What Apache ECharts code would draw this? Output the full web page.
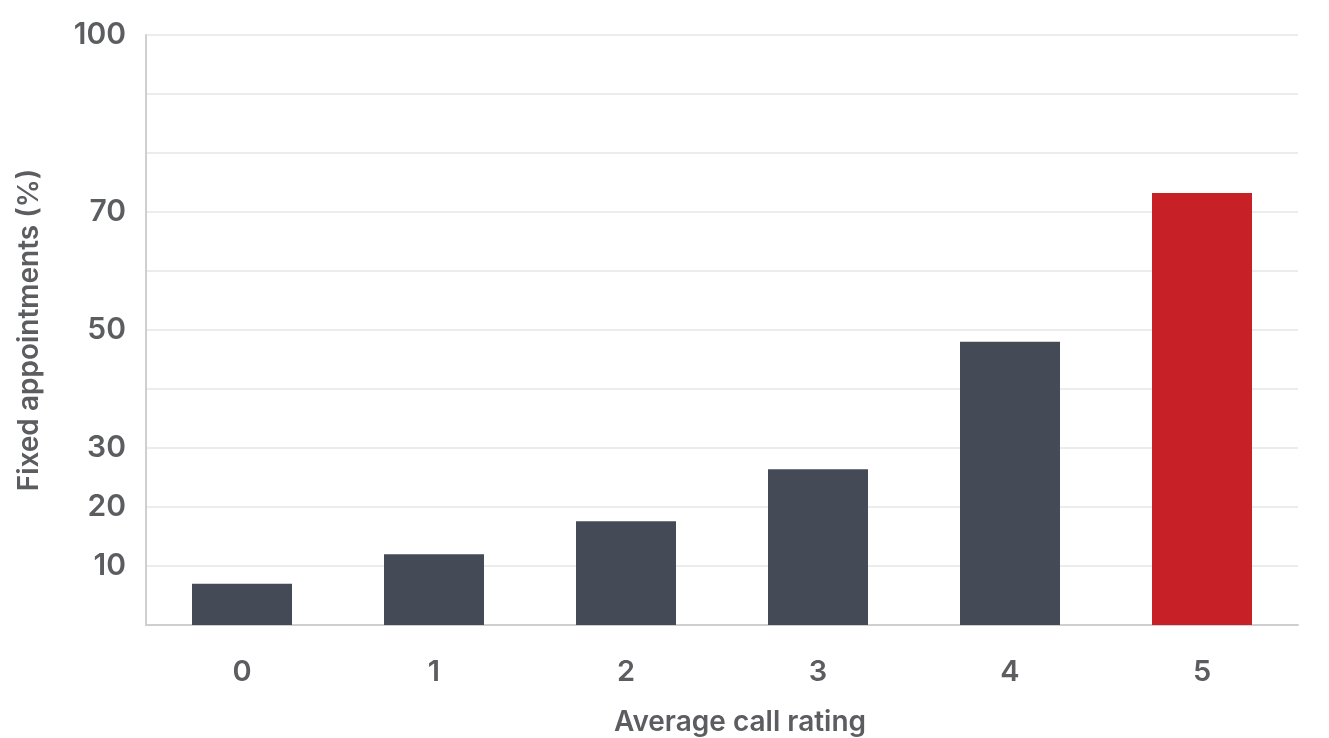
<!DOCTYPE html>
<html>
<head>
<meta charset="utf-8">
<script src="https://cdn.jsdelivr.net/npm/echarts@6/dist/echarts.min.js"></script>
<style>
  html, body { margin: 0; padding: 0; background: #ffffff; }
  #chart { width: 1329px; height: 738px; }
</style>
</head>
<body>
<div id="chart"></div>
<script>
// Share of calls that ended in a fixed appointment, by average call rating
const ratings = ['0', '1', '2', '3', '4', '5'];
const appointmentPct = [7, 12, 17.6, 26.4, 48, 73.2];
const shownTicks = [10, 20, 30, 50, 70, 100];

const barColor = '#454b56';
const topColor = '#c72027';
const textColor = '#5c5d61';
const fontFamily = 'Inter, "Noto Sans", sans-serif';

const chart = echarts.init(document.getElementById('chart'));

chart.setOption({
  animation: false,
  backgroundColor: '#ffffff',
  grid: { left: 146, right: 31, top: 35, bottom: 113, containLabel: false, outerBoundsMode: 'none' },
  xAxis: {
    type: 'category',
    data: ratings,
    name: 'Average call rating',
    nameLocation: 'middle',
    nameGap: 84,
    nameTextStyle: {
      color: textColor, fontSize: 28, fontWeight: 600, fontFamily: fontFamily,
      padding: [0, 0, 0, 36]
    },
    axisLine: { show: true, lineStyle: { color: '#cfcfd1', width: 2 } },
    axisTick: { show: false },
    axisLabel: { color: textColor, fontSize: 29, fontWeight: 600, fontFamily: fontFamily, margin: 33 },
    splitLine: { show: false }
  },
  yAxis: {
    type: 'value',
    min: 0,
    max: 100,
    interval: 10,
    name: 'Fixed appointments (%)',
    nameLocation: 'middle',
    nameGap: 102,
    nameRotate: 90,
    nameTextStyle: { color: textColor, fontSize: 28, fontWeight: 600, fontFamily: fontFamily },
    axisLine: { show: true, lineStyle: { color: '#cfcfd1', width: 2 } },
    axisTick: { show: false },
    axisLabel: {
      color: textColor, fontSize: 30, fontWeight: 600, fontFamily: fontFamily, margin: 20,
      formatter: function (v) { return shownTicks.indexOf(v) >= 0 ? String(v) : ''; }
    },
    splitLine: { show: true, lineStyle: { color: '#ececee', width: 2 } }
  },
  series: [{
    type: 'bar',
    barWidth: 100,
    data: appointmentPct.map(function (v, i) {
      return { value: v, itemStyle: { color: i === appointmentPct.length - 1 ? topColor : barColor } };
    })
  }]
});
</script>
</body>
</html>
